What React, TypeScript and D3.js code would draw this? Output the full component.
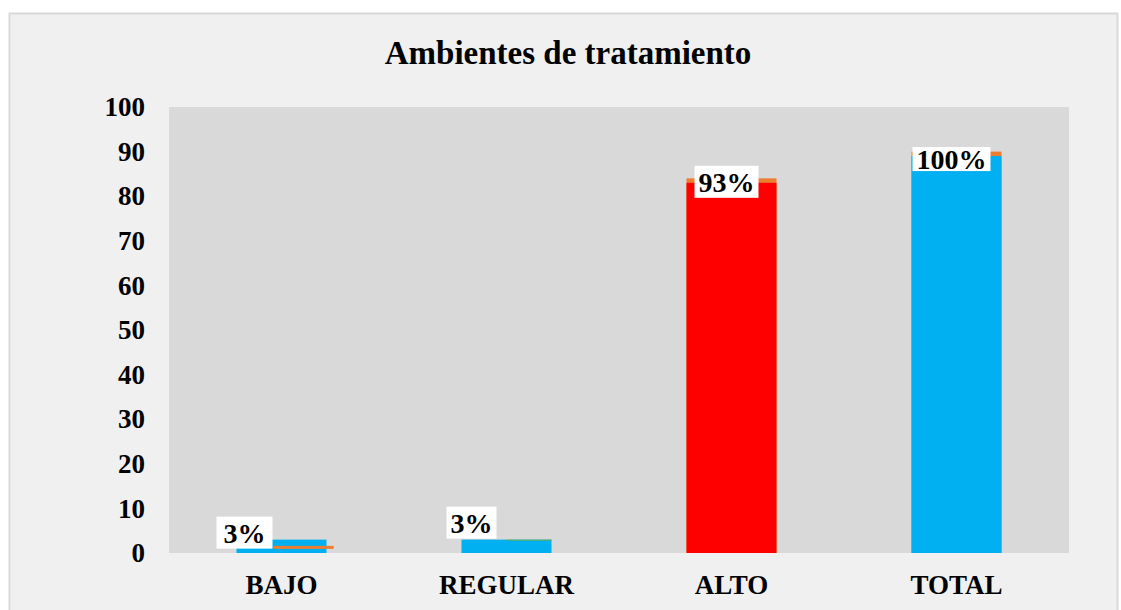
import { useEffect, useRef } from "react";
import * as d3 from "d3";

const CATEGORIES = ["BAJO", "REGULAR", "ALTO", "TOTAL"];
const MAIN_VALUES = [3, 3, 83, 89];
const BACK_VALUES = [1.6, 0, 84, 90]; // orange series peeking out behind
const LABELS = ["3%", "3%", "93%", "100%"];
const Y_TICKS = [0, 10, 20, 30, 40, 50, 60, 70, 80, 90, 100];

const COLORS = {
  blue: "#00b0f0",
  red: "#ff0000",
  orange: "#ed7d31",
  green: "#70ad47",
  plotBg: "#d9d9d9",
  panel: "#f0f0f0",
  border: "#d9d9d9",
  text: "#000000",
};

const BAR_COLORS = [COLORS.blue, COLORS.blue, COLORS.red, COLORS.blue];

// manual nudges for label boxes (px, from bar center / bar top)
const LABEL_NUDGE = [
  { dx: -37, dy: -7 },
  { dx: -35, dy: -17 },
  { dx: -5, dy: -1 },
  { dx: -5, dy: 3 },
];
// orange series offset for the first category (fraction of band)
const BACK_SHIFT = [0.164, 0, 0, 0];

const W = 1121;
const H = 610;
const plot = { left: 169, right: 1069, top: 107, bottom: 553 };
const FONT = "'Liberation Serif', 'Times New Roman', serif";

export default function App() {
  const svgRef = useRef<SVGSVGElement>(null);

  useEffect(() => {
    if (!svgRef.current) return;
    const svg = d3.select(svgRef.current);
    svg.selectAll("*").remove();

    // outer panel
    svg.append("rect")
      .attr("x", 9.5).attr("y", 13.5)
      .attr("width", 1108).attr("height", 620)
      .attr("fill", COLORS.panel)
      .attr("stroke", COLORS.border)
      .attr("stroke-width", 2);

    // title
    svg.append("text")
      .attr("x", 568).attr("y", 64)
      .attr("text-anchor", "middle")
      .attr("font-family", FONT)
      .attr("font-weight", "bold")
      .attr("font-size", 33)
      .attr("fill", COLORS.text)
      .text("Ambientes de tratamiento");

    const x = d3.scaleBand()
      .domain(CATEGORIES)
      .range([plot.left, plot.right])
      .paddingInner(0.6)
      .paddingOuter(0.3);

    const y = d3.scaleLinear().domain([0, 100]).range([plot.bottom, plot.top]);

    // plot area
    svg.append("rect")
      .attr("x", plot.left).attr("y", plot.top)
      .attr("width", plot.right - plot.left)
      .attr("height", plot.bottom - plot.top)
      .attr("fill", COLORS.plotBg);

    // y axis labels
    const yAxis = svg.append("g").attr("transform", `translate(${plot.left},0)`)
      .call(d3.axisLeft(y).tickValues(Y_TICKS).tickSize(0).tickPadding(24));
    yAxis.select(".domain").remove();
    yAxis.selectAll("text")
      .attr("font-family", FONT)
      .attr("font-weight", "bold")
      .attr("font-size", 27)
      .attr("fill", COLORS.text);

    // x axis labels
    const xAxis = svg.append("g").attr("transform", `translate(0,${plot.bottom})`)
      .call(d3.axisBottom(x).tickSize(0).tickPadding(22));
    xAxis.select(".domain").remove();
    xAxis.selectAll("text")
      .attr("font-family", FONT)
      .attr("font-weight", "bold")
      .attr("font-size", 27)
      .attr("fill", COLORS.text);

    const bw = x.bandwidth();

    // orange series behind the main bars
    CATEGORIES.forEach((c, i) => {
      const v = BACK_VALUES[i];
      if (!v || i === 0) return;
      svg.append("rect")
        .attr("x", x(c) ?? 0).attr("y", y(v))
        .attr("width", bw).attr("height", y(0) - y(v))
        .attr("fill", COLORS.orange);
    });

    // main bars
    svg.append("g").selectAll("rect")
      .data(CATEGORIES)
      .join("rect")
      .attr("x", (c) => x(c) ?? 0)
      .attr("y", (_, i) => y(MAIN_VALUES[i]))
      .attr("width", bw)
      .attr("height", (_, i) => y(0) - y(MAIN_VALUES[i]))
      .attr("fill", (_, i) => BAR_COLORS[i]);

    // orange slice overlapping BAJO blue bar
    svg.append("rect")
      .attr("x", (x(CATEGORIES[0]) ?? 0) + BACK_SHIFT[0] * x.step())
      .attr("y", y(BACK_VALUES[0]))
      .attr("width", bw * 0.67).attr("height", 3)
      .attr("fill", COLORS.orange);

    // thin green line on REGULAR
    svg.append("rect")
      .attr("x", (x(CATEGORIES[1]) ?? 0) + bw * 0.5)
      .attr("y", y(MAIN_VALUES[1]))
      .attr("width", bw * 0.5).attr("height", 1)
      .attr("fill", COLORS.green);

    // data labels
    CATEGORIES.forEach((c, i) => {
      const cx = (x(c) ?? 0) + bw / 2 + LABEL_NUDGE[i].dx;
      const cy = y(MAIN_VALUES[i]) + LABEL_NUDGE[i].dy;
      const g = svg.append("g");
      const box = g.append("rect").attr("fill", "#ffffff");
      const t = g.append("text")
        .attr("x", cx).attr("y", cy + 10)
        .attr("text-anchor", "middle")
        .attr("font-family", FONT)
        .attr("font-weight", "bold")
        .attr("font-size", 28)
        .attr("fill", COLORS.text)
        .text(LABELS[i]);
      const tw = (t.node() as SVGTextElement).getComputedTextLength();
      const bh = i === 3 ? 24 : 32;
      const pad = i === 0 ? 7 : 4;
      box.attr("x", cx - tw / 2 - pad).attr("y", cy - bh / 2)
        .attr("width", tw + pad * 2).attr("height", bh);
    });
  }, []);

  return (
    <svg
      ref={svgRef}
      width={W}
      height={H}
      style={{ position: "absolute", left: 0, top: 0, background: "#ffffff" }}
    />
  );
}
